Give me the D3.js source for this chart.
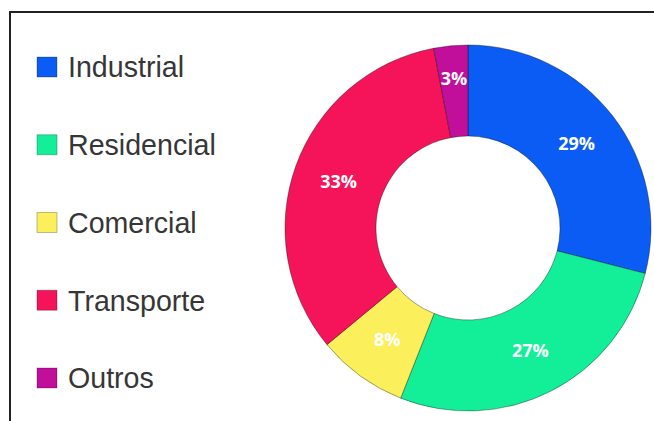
<!DOCTYPE html>
<html>
<head>
<meta charset="utf-8">
<script src="https://cdn.jsdelivr.net/npm/d3@7"></script>
<style>
  body { margin: 0; background: #fff; }
  svg { display: block; }
</style>
</head>
<body>
<div id="container"></div>
<script>
const width = 654;
const height = 421;

const categories = ["Industrial", "Residencial", "Comercial", "Transporte", "Outros"];
const values = [29, 27, 8, 33, 3];
const colors = ["#0b5cf4", "#12ef98", "#fbef5c", "#f5135a", "#c10f9c"];

const cx = 468;
const cy = 228;
const outerR = 183;
const innerR = 92;

const color = d3.scaleOrdinal().domain(categories).range(colors);

const svg = d3.create("svg")
  .attr("width", width)
  .attr("height", height)
  .attr("viewBox", [0, 0, width, height]);

// frame lines (top and left)
svg.append("path")
  .attr("d", `M10,${height} V12 H${width}`)
  .attr("fill", "none")
  .attr("stroke", "#222")
  .attr("stroke-width", 2);

const data = categories.map((c, i) => ({ key: c, value: values[i] }));

const pie = d3.pie().value(d => d.value).sort(null);
const arc = d3.arc().innerRadius(innerR).outerRadius(outerR);
// thin slices get their label pushed outwards
const arcSmall = d3.arc().innerRadius(120).outerRadius(180);
const arcs = pie(data);

const g = svg.append("g").attr("transform", `translate(${cx},${cy})`);

g.selectAll("path")
  .data(arcs)
  .join("path")
    .attr("d", arc)
    .attr("fill", d => color(d.data.key))
    .attr("stroke", "rgba(0,0,0,0.35)")
    .attr("stroke-width", 1);

g.selectAll("text")
  .data(arcs)
  .join("text")
    .attr("transform", d => `translate(${(d.data.value < 5 ? arcSmall : arc).centroid(d)})`)
    .attr("text-anchor", "middle")
    .attr("dy", "0.35em")
    .attr("fill", "#fff")
    .attr("font-family", "Open Sans, sans-serif")
    .attr("font-weight", "bold")
    .attr("font-size", 18)
    .text(d => `${d.data.value}%`);

// legend
const y = d3.scalePoint()
  .domain(categories)
  .range([67, 378]);

const legend = svg.append("g")
  .selectAll("g")
  .data(categories)
  .join("g")
    .attr("transform", d => `translate(37,${y(d)})`);

legend.append("rect")
  .attr("x", 0)
  .attr("y", -10)
  .attr("width", 20)
  .attr("height", 20)
  .attr("fill", d => color(d))
  .attr("stroke", "rgba(0,0,0,0.25)")
  .attr("stroke-width", 1);

legend.append("text")
  .attr("x", 31)
  .attr("dy", "0.36em")
  .attr("fill", "#363636")
  .attr("font-family", "Liberation Sans, Arial, sans-serif")
  .attr("font-size", 28.6)
  .text(d => d);

document.getElementById("container").appendChild(svg.node());
</script>
</body>
</html>
